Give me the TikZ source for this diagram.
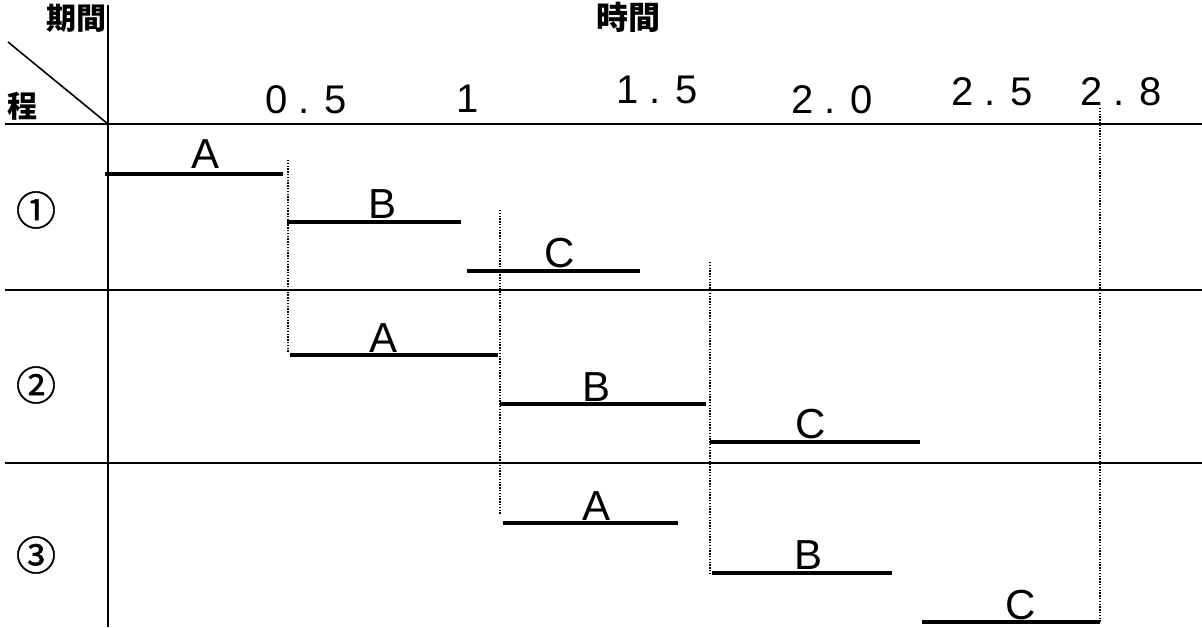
\documentclass[tikz,border=0pt]{standalone}
\usepackage{fontspec}
\setmainfont{Liberation Sans}
\newfontfamily\jpfont{Noto Sans CJK JP}
\newfontfamily\circfont[FakeBold=1.2]{Noto Sans CJK JP}

\begin{document}
\begin{tikzpicture}[x=1pt, y=-1pt, line width=1.6pt, line cap=butt, line join=round,
  bar/.style={line width=4.2pt},
  guide/.style={line width=1.7pt, dash pattern=on 1.3pt off 1.5pt},
  lbl/.style={anchor=center, inner sep=0pt, font=\fontsize{42}{48}\selectfont},
  num/.style={anchor=center, inner sep=0pt, font=\fontsize{40}{46}\selectfont},
  proc/.style={anchor=center, inner sep=0pt, font=\circfont\fontsize{40}{46}\selectfont}]

  %% ════ 表格框线 ════
  \draw (108,5) -- (108,627);
  \draw (5,124) -- (1202,124);
  \draw (5,290) -- (1202,290);
  \draw (5,463) -- (1202,463);
  \draw (8,42) -- (108,124);

  %% ════ 表头 ════
  \node[anchor=east, inner sep=0pt, font=\jpfont\bfseries\fontsize{30}{34}\selectfont] (kikan) at (107,18) {期間};
  \node[anchor=center, inner sep=0pt, font=\jpfont\bfseries\fontsize{30}{34}\selectfont] (tei) at (23,106) {程};
  \node[anchor=center, inner sep=0pt, font=\jpfont\bfseries\fontsize{32}{36}\selectfont] (jikan) at (628,17) {時間};

  %% ════ 刻度数字 ════
  \node[num] (t05) at (306,100) {0 . 5};
  \node[num] (t1)  at (468,99) {1};
  \node[num] (t15) at (657,90) {1 . 5};
  \node[num] (t20) at (832,100) {2 . 0};
  \node[num] (t25) at (992,92) {2 . 5};
  \node[num] (t28) at (1121,92) {2 . 8};

  %% ════ 工程编号 ════
  \node[proc] (p1) at (36,210) {①};
  \node[proc] (p2) at (36,385) {②};
  \node[proc] (p3) at (36,555) {③};

  %% ════ 虚线（时间分界）════
  \draw[guide] (288,160) -- (288,352);
  \draw[guide] (500,210) -- (500,515);
  \draw[guide] (710,262) -- (710,575);
  \draw[guide] (1100,108) -- (1100,622);

  %% ════ 工序横条 ════
  \draw[bar] (105,174) -- (283,174);
  \draw[bar] (287,222) -- (461,222);
  \draw[bar] (467,271) -- (640,271);
  \draw[bar] (290,355) -- (498,355);
  \draw[bar] (500,404) -- (706,404);
  \draw[bar] (710,442) -- (920,442);
  \draw[bar] (503,523) -- (678,523);
  \draw[bar] (712,573) -- (892,573);
  \draw[bar] (922,622) -- (1100,622);

  %% ════ 工序字母 ════
  \node[lbl] (a1) at (206,154) {A};
  \node[lbl] (b1) at (383,204) {B};
  \node[lbl] (c1) at (560,253) {C};
  \node[lbl] (a2) at (384,338) {A};
  \node[lbl] (b2) at (596,387) {B};
  \node[lbl] (c2) at (811,424) {C};
  \node[lbl] (a3) at (596,506) {A};
  \node[lbl] (b3) at (808,555) {B};
  \node[lbl] (c3) at (1021,605) {C};

  \pgfresetboundingbox
  \path[use as bounding box] (0,0) rectangle (1202,627);
\end{tikzpicture}
\end{document}
